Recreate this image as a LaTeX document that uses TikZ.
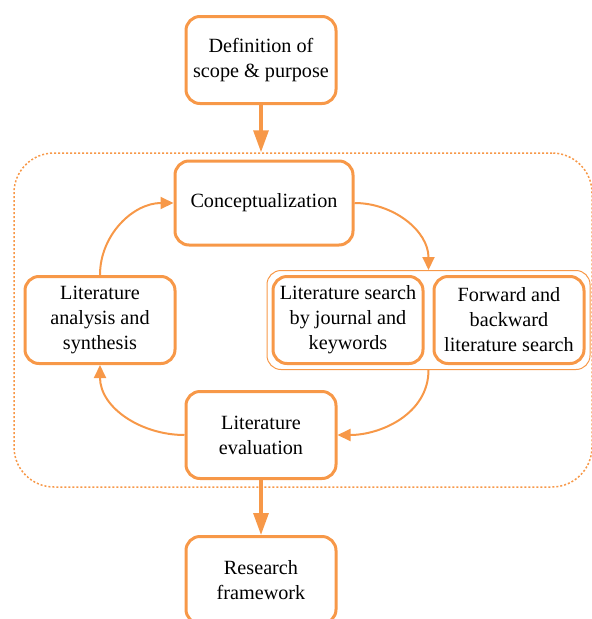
\documentclass[tikz,border=0pt]{standalone}
\usepackage{fontspec}
\setmainfont{Liberation Serif}
\usetikzlibrary{arrows.meta, positioning, fit}
\definecolor{litorange}{RGB}{247,152,72}

\begin{document}
\begin{tikzpicture}[x=1pt, y=-1pt, >={Triangle[length=22pt, width=15pt]},
    font=\fontsize{20.2}{25}\selectfont,
    box/.style={draw=litorange, line width=3pt, rounded corners=14pt, align=center,
        minimum width=150pt, minimum height=87pt, inner sep=0pt},
    flow/.style={draw=litorange, line width=2pt, ->, >={Triangle[length=13pt, width=12pt]}},
    bigflow/.style={draw=litorange, line width=3.2pt, ->}]
    \useasboundingbox (0,0) rectangle (592,619);

    \node (def) [box] at (261,60) {Definition of\\scope \& purpose};
    \node (concept) [box, minimum width=178pt, minimum height=84pt] at (264,203) {Conceptualization};
    \node (search) [box] at (348,320) {Literature search\\by journal and\\keywords};
    \node (fwd) [box, right=8pt of search] {Forward and\\backward\\literature search};
    \node (analysis) [box] at (100,320) {Literature\\analysis and\\synthesis};
    \node (eval) [box] at (261,435) {Literature\\evaluation};
    \node (result) [box] at (261,580) {Research\\framework};

    % search group and loop frame
    \node (group) [draw=litorange, line width=1pt, rounded corners=14pt, inner sep=4.5pt, fit=(search)(fwd)] {};
    \coordinate (f1) at (14,153);
    \coordinate (f2) at (592,487);
    \node (frame) [draw=litorange, line width=1.5pt, dash pattern=on 2pt off 2pt, rounded corners=40pt, inner sep=0pt, fit=(f1)(f2)] {};

    % Edges
    \draw[bigflow] (def) -- (def.south |- frame.north);
    \draw[flow] (concept.east) to[out=0, in=90] (group.north);
    \draw[flow] (group.south) to[out=-90, in=0] (eval.east);
    \draw[flow] (eval.west) to[out=180, in=-90] (analysis.south);
    \draw[flow] (analysis.north) to[out=90, in=180] (concept.west);
    \draw[bigflow] (eval) -- (result);
\end{tikzpicture}
\end{document}
